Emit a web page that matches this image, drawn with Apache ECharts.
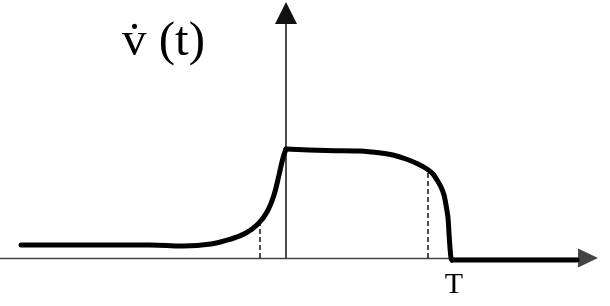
<!DOCTYPE html>
<html>
<head>
<meta charset="utf-8">
<script src="https://cdn.jsdelivr.net/npm/echarts@6/dist/echarts.min.js"></script>
<style>html,body{margin:0;padding:0;background:#fff;}#c{width:610px;height:306px;}</style>
</head>
<body>
<div id="c"></div>
<script>
// t measured from the vertical axis, y measured above the horizontal axis
var riseT = [-265, -186, -136, -103, -75, -55, -40, -28, -19, -12, -7, -3, 0];
var riseY = [13, 13, 13, 12, 14, 19, 25, 34, 46, 63, 83, 100, 109];
var plateauT = [0, 40, 74, 95, 107, 120, 132, 141, 147, 151, 155, 158, 160, 162, 163, 164, 165, 166];
var plateauY = [109, 107.5, 107, 105, 103, 99, 94, 89, 84, 78, 71, 63, 53, 40, 25, 10, 0, -2];
var tailT = [166, 291];
var tailY = [-2, -2];
var dash1T = [-26, -26];
var dash1Y = [0, 33];
var dash2T = [142, 142];
var dash2Y = [0, 86];
var tickValues = [168];
var tickLabels = ['T'];
var titleText = 'v\u0307 (t)';

function pairs(xs, ys) { return xs.map(function (x, i) { return [x, ys[i]]; }); }

var chart = echarts.init(document.getElementById('c'), null, {renderer: 'canvas'});
var curveStyle = {color: '#000', width: 5, cap: 'round', join: 'round'};
var dashStyle = {color: '#111', width: 1.5, type: [5, 3]};
chart.setOption({
  animation: false,
  backgroundColor: '#fff',
  grid: {left: 0, right: 22, top: 13, bottom: 48},
  xAxis: {
    type: 'value', min: -286, max: 302,
    splitLine: {show: false}, axisTick: {show: false},
    axisLine: {show: true, onZero: true, symbol: ['none', 'triangle'], symbolSize: [19, 20],
      lineStyle: {color: '#444', width: 1.4}},
    axisLabel: {
      show: true, customValues: tickValues, margin: 12,
      formatter: function (v) { var i = tickValues.indexOf(v); return i >= 0 ? tickLabels[i] : ''; },
      color: '#000', fontFamily: '"Liberation Serif", serif', fontSize: 30
    }
  },
  yAxis: {
    type: 'value', min: 0, max: 245,
    splitLine: {show: false}, axisTick: {show: false}, axisLabel: {show: false},
    axisLine: {show: true, onZero: true, symbol: ['none', 'triangle'], symbolSize: [22, 22],
      lineStyle: {color: '#111', width: 1.5}}
  },
  graphic: [{
    type: 'text', x: 122, y: 42,
    style: {text: titleText, font: '49px "Liberation Serif", "DejaVu Serif", serif', fill: '#000',
      verticalAlign: 'middle', align: 'left'}
  }],
  series: [
    {type: 'line', data: pairs(dash1T, dash1Y), showSymbol: false, lineStyle: dashStyle, clip: false},
    {type: 'line', data: pairs(dash2T, dash2Y), showSymbol: false, lineStyle: dashStyle, clip: false},
    {type: 'line', data: pairs(riseT, riseY), showSymbol: false, smooth: 0.4, lineStyle: curveStyle, clip: false},
    {type: 'line', data: pairs(plateauT, plateauY), showSymbol: false, smooth: 0.3, lineStyle: curveStyle, clip: false},
    {type: 'line', data: pairs(tailT, tailY), showSymbol: false, lineStyle: curveStyle, clip: false}
  ]
});
</script>
</body>
</html>
